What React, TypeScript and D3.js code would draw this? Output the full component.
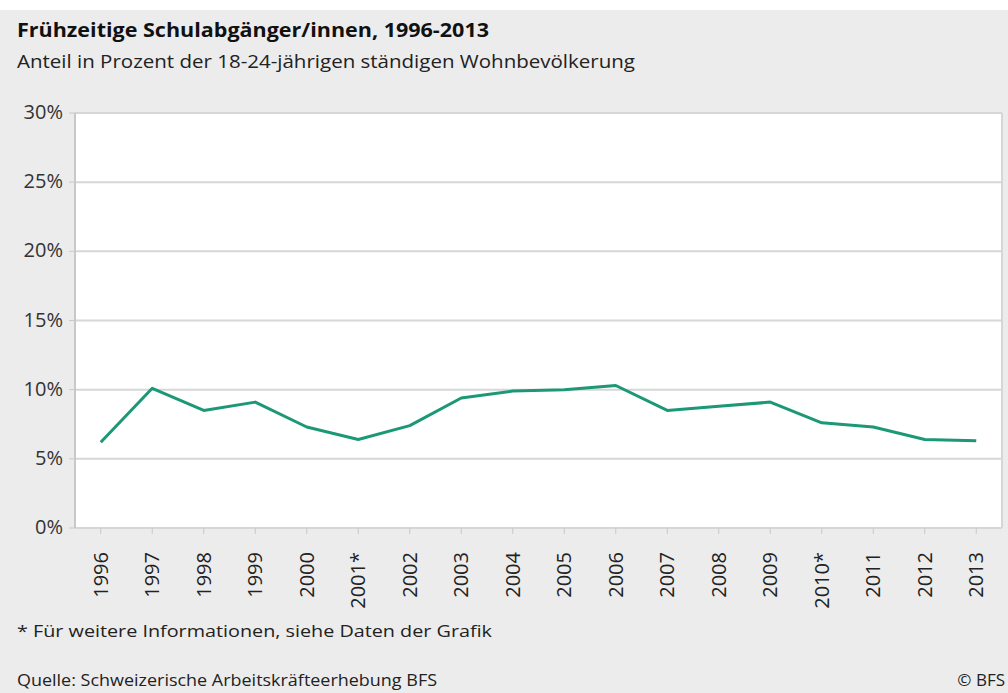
import { useEffect, useRef } from "react";
import * as d3 from "d3";

const years = [
  "1996", "1997", "1998", "1999", "2000", "2001*", "2002", "2003", "2004",
  "2005", "2006", "2007", "2008", "2009", "2010*", "2011", "2012", "2013",
];
const shares = [
  6.2, 10.1, 8.5, 9.1, 7.3, 6.4, 7.4, 9.4, 9.9,
  10.0, 10.3, 8.5, 8.8, 9.1, 7.6, 7.3, 6.4, 6.3,
];
const yTicks = [0, 5, 10, 15, 20, 25, 30];

const W = 1008;
const H = 693;
const font = "'Open Sans', Lato, sans-serif";

export default function App() {
  const ref = useRef<SVGSVGElement | null>(null);

  useEffect(() => {
    if (!ref.current) return;
    const svg = d3.select(ref.current);
    svg.selectAll("*").remove();

    const left = 75, right = 1002, top = 113, bottom = 528;

    svg.append("rect").attr("width", W).attr("height", H).attr("fill", "#ffffff");
    svg.append("rect").attr("y", 10).attr("width", W).attr("height", H - 10).attr("fill", "#ececec");

    svg.append("text").attr("x", 17).attr("y", 37)
      .style("font", `bold 20px ${font}`).attr("fill", "#111")
      .attr("textLength", 472).attr("lengthAdjust", "spacingAndGlyphs")
      .text("Frühzeitige Schulabgänger/innen, 1996-2013");
    svg.append("text").attr("x", 17).attr("y", 68)
      .style("font", `18px ${font}`).attr("fill", "#222")
      .attr("textLength", 618).attr("lengthAdjust", "spacingAndGlyphs")
      .text("Anteil in Prozent der 18-24-jährigen ständigen Wohnbevölkerung");

    const x = d3.scaleBand<string>().domain(years).range([left, right]);
    const y = d3.scaleLinear().domain([0, 30]).range([bottom, top]);

    svg.append("rect").attr("x", left).attr("y", top)
      .attr("width", right - left).attr("height", bottom - top).attr("fill", "#ffffff");

    // grid
    svg.append("g").selectAll("line").data(yTicks).join("line")
      .attr("x1", left).attr("x2", right)
      .attr("y1", (d) => y(d)).attr("y2", (d) => y(d))
      .attr("stroke", "#d6d6d6").attr("stroke-width", 2);

    svg.append("line").attr("x1", left).attr("x2", left).attr("y1", top).attr("y2", bottom)
      .attr("stroke", "#c8c8c8").attr("stroke-width", 2);
    svg.append("line").attr("x1", right).attr("x2", right).attr("y1", top).attr("y2", bottom)
      .attr("stroke", "#d6d6d6").attr("stroke-width", 2);

    // y labels
    svg.append("g").selectAll("text").data(yTicks).join("text")
      .attr("x", 63).attr("y", (d) => y(d)).attr("dy", "0.3em")
      .attr("text-anchor", "end").attr("fill", "#333")
      .style("font", `20px ${font}`)
      .text((d) => `${d}%`);
    svg.append("g").selectAll("line").data(yTicks).join("line")
      .attr("x1", left - 6).attr("x2", left)
      .attr("y1", (d) => y(d)).attr("y2", (d) => y(d))
      .attr("stroke", "#c8c8c8").attr("stroke-width", 1);

    // x ticks + labels
    const cx = (d: string) => (x(d) ?? 0) + x.bandwidth() / 2;
    svg.append("g").selectAll("line").data(years).join("line")
      .attr("x1", cx).attr("x2", cx).attr("y1", bottom).attr("y2", bottom + 6)
      .attr("stroke", "#c8c8c8").attr("stroke-width", 1);
    svg.append("g").selectAll("text").data(years).join("text")
      .attr("transform", (d) => `translate(${cx(d) + 7},${bottom + 24}) rotate(-90)`)
      .attr("text-anchor", "end").attr("fill", "#222")
      .style("font", `20px ${font}`)
      .text((d) => d);

    // line
    const line = d3.line<number>()
      .x((_, i) => cx(years[i]))
      .y((d) => y(d));
    svg.append("path").datum(shares).attr("d", line)
      .attr("fill", "none").attr("stroke", "#1c9877").attr("stroke-width", 3)
      .attr("stroke-linejoin", "round");

    svg.append("text").attr("x", 17).attr("y", 637)
      .style("font", `17px ${font}`).attr("fill", "#222")
      .attr("textLength", 475).attr("lengthAdjust", "spacingAndGlyphs")
      .text("* Für weitere Informationen, siehe Daten der Grafik");
    svg.append("text").attr("x", 17).attr("y", 686)
      .style("font", `17px ${font}`).attr("fill", "#222")
      .attr("textLength", 420).attr("lengthAdjust", "spacingAndGlyphs")
      .text("Quelle: Schweizerische Arbeitskräfteerhebung BFS");
    svg.append("text").attr("x", 1005).attr("y", 686).attr("text-anchor", "end")
      .style("font", `17px ${font}`).attr("fill", "#222")
      .text("© BFS");
  }, []);

  return (
    <svg ref={ref} width={W} height={H}
      style={{ position: "absolute", top: 0, left: 0, display: "block" }} />
  );
}
